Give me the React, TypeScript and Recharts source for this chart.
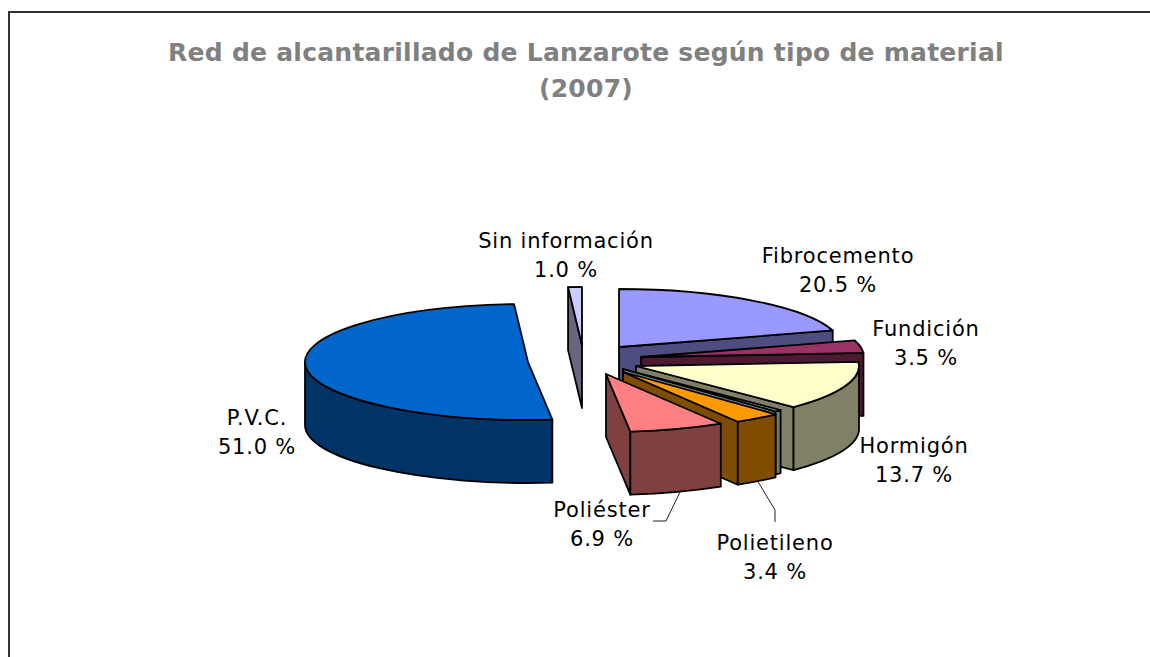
import React from "react";
import { PieChart, Pie } from "recharts";

const names = ["Fibrocemento", "Fundición", "Hormigón", "Otros", "Polietileno", "Poliéster", "P.V.C.", "Sin información"];
const values = [20.5, 3.5, 13.7, 0.5, 3.4, 6.9, 51.0, 1.0];
const faceColors = ["#9999FF", "#993366", "#FFFFCC", "#CCFFFF", "#FF9900", "#FF8080", "#0066CC", "#CCCCFF"];
const wallColors = ["#4D4D80", "#4D1933", "#808066", "#668080", "#804D00", "#804040", "#003366", "#666680"];

const rows = names.map((name, i) => ({ name, value: values[i], fill: faceColors[i], wall: wallColors[i] }));

// pie centre, squash and thickness of the 3D look
const CX = 600;
const CY = 360;
const RADIUS = 223;
const SQUASH = 0.26;
const DEPTH = 63;

// how far each slice is pulled out of the pie
const explode: Record<string, [number, number]> = {
  "Fibrocemento": [19, -13],
  "Fundición": [41, -3],
  "Hormigón": [36, 6],
  "Otros": [23, 9],
  "Polietileno": [23, 12],
  "Poliéster": [6, 14],
  "P.V.C.": [-72, 2],
  "Sin información": [-18, -15],
};

// label centre x and first baseline
const labelPos: Record<string, [number, number]> = {
  "Fibrocemento": [838, 263],
  "Fundición": [926, 336],
  "Hormigón": [914, 453],
  "Polietileno": [775, 550],
  "Poliéster": [602, 517],
  "P.V.C.": [257, 425],
  "Sin información": [566, 248],
};

const leaders: Record<string, string> = {
  "Polietileno": "M757 480 L775 510 L775 522",
  "Poliéster": "M681 490 L666 521 L653 521",
};

const rad = (deg: number) => (deg * Math.PI) / 180;

function Slice(props: any) {
  const { cx, cy, outerRadius, startAngle, endAngle, fill, name, wall } = props;
  const [dx, dy] = explode[name] ?? [0, 0];
  const ax = cx + dx;
  const ay = cy + dy;
  const rx = outerRadius;
  const ry = outerRadius * SQUASH;
  const px = (t: number) => ax + rx * Math.cos(rad(t));
  const py = (t: number) => ay - ry * Math.sin(rad(t));
  const line = { stroke: "#000", strokeWidth: 1.8, strokeLinejoin: "round" as const };

  const cutFace = (t: number) =>
    `M${ax} ${ay} L${px(t)} ${py(t)} L${px(t)} ${py(t) + DEPTH} L${ax} ${ay + DEPTH} Z`;

  const from = Math.min(startAngle, 0);
  const to = Math.max(endAngle, -180);
  const large = startAngle - endAngle > 180 ? 1 : 0;

  return (
    <g>
      {Math.cos(rad(endAngle)) > 0.001 && <path d={cutFace(endAngle)} fill={wall} {...line} />}
      {Math.cos(rad(startAngle)) < -0.001 && <path d={cutFace(startAngle)} fill={wall} {...line} />}
      {from > to && (
        <path
          d={`M${px(from)} ${py(from)} A${rx} ${ry} 0 ${from - to > 180 ? 1 : 0} 1 ${px(to)} ${py(to)}
              L${px(to)} ${py(to) + DEPTH} A${rx} ${ry} 0 ${from - to > 180 ? 1 : 0} 0 ${px(from)} ${py(from) + DEPTH} Z`}
          fill={wall}
          {...line}
        />
      )}
      <path
        d={`M${ax} ${ay} L${px(startAngle)} ${py(startAngle)} A${rx} ${ry} 0 ${large} 1 ${px(endAngle)} ${py(endAngle)} Z`}
        fill={fill}
        {...line}
      />
    </g>
  );
}

function SliceLabel(props: any) {
  const name = names[props.index];
  const pos = labelPos[name];
  if (!pos) return null;
  const textStyle = { textAnchor: "middle" as const, fontSize: 21, letterSpacing: 0.8, fill: "#000", fontFamily: "'DejaVu Sans'" };
  return (
    <g>
      {leaders[name] && <path d={leaders[name]} fill="none" stroke="#222" strokeWidth={1} />}
      <text x={pos[0]} y={pos[1]} {...textStyle}>
        {name}
      </text>
      <text x={pos[0]} y={pos[1] + 28.5} {...textStyle}>
        {values[props.index].toFixed(1) + " %"}
      </text>
    </g>
  );
}

const titleStyle = { textAnchor: "middle" as const, fontSize: 25, letterSpacing: 0.25, fontWeight: "bold", fill: "#808080", fontFamily: "'DejaVu Sans'" };

export default function App() {
  return (
    <div style={{ position: "absolute", left: 0, top: 0, width: 1150, height: 657, overflow: "hidden", background: "#fff" }}>
      <div style={{ position: "absolute", left: 8, top: 11, right: 0, bottom: 0, borderTop: "2px solid #333", borderLeft: "2px solid #333" }} />
      <PieChart width={1150} height={657} margin={{ top: 0, right: 0, bottom: 0, left: 0 }} style={{ position: "absolute", left: 0, top: 0 }}>
        <text x={586} y={61} {...titleStyle}>
          Red de alcantarillado de Lanzarote según tipo de material
        </text>
        <text x={586} y={97} {...titleStyle}>
          (2007)
        </text>
        <Pie
          data={rows}
          dataKey="value"
          nameKey="name"
          cx={CX}
          cy={CY}
          innerRadius={0}
          outerRadius={RADIUS}
          startAngle={90}
          endAngle={-270}
          stroke="#000"
          shape={Slice}
          activeShape={Slice}
          inactiveShape={Slice}
          label={SliceLabel}
          labelLine={false}
          isAnimationActive={false}
        />
      </PieChart>
    </div>
  );
}
